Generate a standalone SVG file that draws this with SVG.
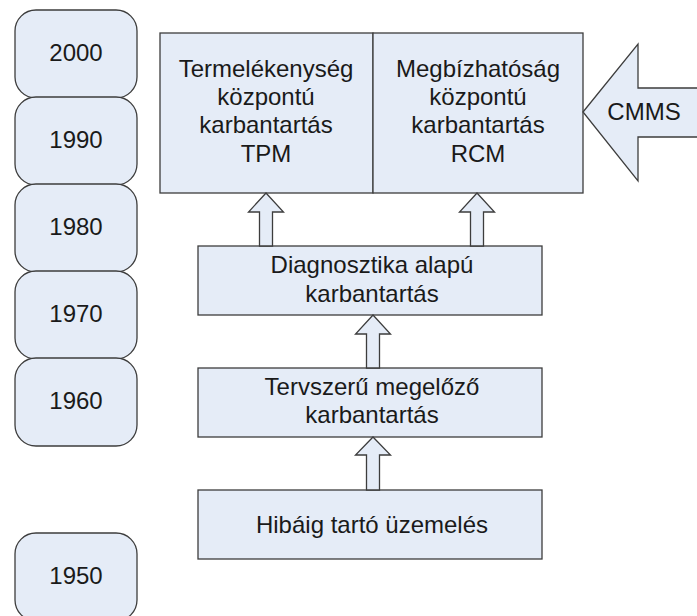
<svg xmlns="http://www.w3.org/2000/svg" width="697" height="616" viewBox="0 0 697 616">
<style>
.b{fill:#E5ECF7;stroke:#3d3d3d;stroke-width:1.3}
.t{font-family:"Liberation Sans",Arial,sans-serif;font-size:24px;fill:#1a1a1a;text-anchor:middle}
</style>
<rect width="697" height="616" fill="#ffffff"/>
<g id="y2000"><rect class="b" x="15" y="10" width="122" height="88" rx="21"/><text class="t" x="76" y="61">2000</text></g>
<g id="y1990"><rect class="b" x="15" y="97" width="122" height="88" rx="21"/><text class="t" x="76" y="148">1990</text></g>
<g id="y1980"><rect class="b" x="15" y="184" width="122" height="88" rx="21"/><text class="t" x="76" y="235">1980</text></g>
<g id="y1970"><rect class="b" x="15" y="271" width="122" height="88" rx="21"/><text class="t" x="76" y="322">1970</text></g>
<g id="y1960"><rect class="b" x="15" y="358" width="122" height="88" rx="21"/><text class="t" x="76" y="409">1960</text></g>
<g id="y1950"><rect class="b" x="15" y="533" width="122" height="88" rx="21"/><text class="t" x="76" y="584">1950</text></g>
<g id="tpm"><rect class="b" x="160" y="33" width="213" height="160"/>
<text class="t" x="266" y="77">Termelékenység</text><text class="t" x="266" y="105">központú</text><text class="t" x="266" y="133">karbantartás</text><text class="t" x="266" y="162">TPM</text></g>
<g id="rcm"><rect class="b" x="373" y="33" width="210" height="160"/>
<text class="t" x="478" y="77">Megbízhatóság</text><text class="t" x="478" y="105">központú</text><text class="t" x="478" y="133">karbantartás</text><text class="t" x="478" y="162">RCM</text></g>
<g id="cmms"><path class="b" d="M583,112 L638,44 L638,88 L700,88 L700,137 L638,137 L638,181 Z"/><text class="t" x="644" y="120">CMMS</text></g>
<g id="diag"><rect class="b" x="198" y="246" width="344" height="69"/>
<text class="t" x="372" y="273">Diagnosztika alapú</text><text class="t" x="372" y="302">karbantartás</text></g>
<g id="terv"><rect class="b" x="198" y="368" width="344" height="69"/>
<text class="t" x="372" y="395">Tervszerű megelőző</text><text class="t" x="372" y="423">karbantartás</text></g>
<g id="hiba"><rect class="b" x="198" y="490" width="344" height="69"/>
<text class="t" x="372" y="533">Hibáig tartó üzemelés</text></g>
<g id="connectors">
<path class="b" d="M266,193 L283.5,212 L272.5,212 L272.5,246 L259.5,246 L259.5,212 L248.5,212 Z"/>
<path class="b" d="M477,193 L494.5,212 L483.5,212 L483.5,246 L470.5,246 L470.5,212 L459.5,212 Z"/>
<path class="b" d="M373,315 L390.5,334 L379.5,334 L379.5,368 L366.5,368 L366.5,334 L355.5,334 Z"/>
<path class="b" d="M373,437 L390.5,455 L379.5,455 L379.5,490 L366.5,490 L366.5,455 L355.5,455 Z"/>
</g>
</svg>
